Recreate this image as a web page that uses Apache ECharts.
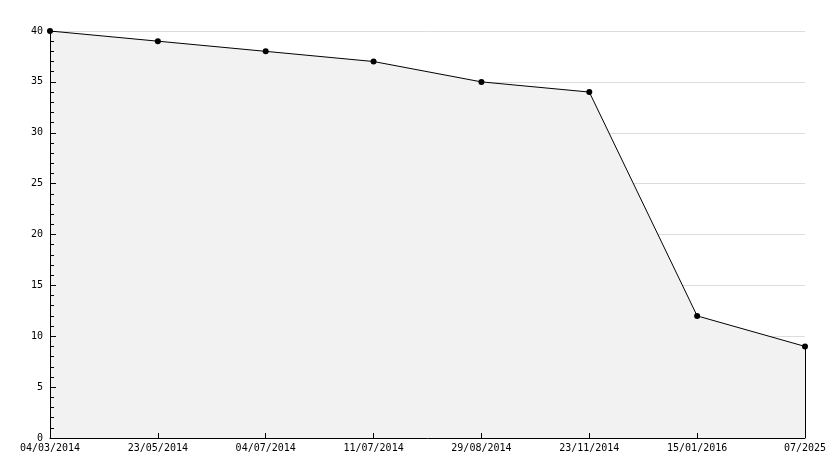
<!DOCTYPE html>
<html><head><meta charset="utf-8">
<script src="https://cdn.jsdelivr.net/npm/echarts@6/dist/echarts.min.js"></script>
<style>html,body{margin:0;padding:0;background:#fff}#c{width:834px;height:468px}</style>
</head><body><div id="c"></div>
<script>
const categories = ['04/03/2014','23/05/2014','04/07/2014','11/07/2014','29/08/2014','23/11/2014','15/01/2016','07/2025'];
const values = [40, 39, 38, 37, 35, 34, 12, 9];
const yTicks = {min: 0, max: 40, interval: 5};

const font = {fontFamily: 'DejaVu Sans Mono', fontSize: 10, color: '#000'};
const chart = echarts.init(document.getElementById('c'), null, {renderer: 'canvas'});
const last = categories.length - 1;
const xBase = {type: 'category', data: categories, boundaryGap: false, position: 'bottom'};
const yBase = {type: 'value', min: yTicks.min, max: yTicks.max, interval: yTicks.interval, position: 'left'};
chart.setOption({
  animation: false,
  backgroundColor: '#fff',
  grid: {left: 50, right: 29, top: 31, bottom: 30, containLabel: false},
  xAxis: [
    Object.assign({}, xBase, {
      axisLine: {show: false}, axisTick: {show: false},
      axisLabel: Object.assign({margin: 5, interval: 0, showMaxLabel: true, showMinLabel: true}, font),
      splitLine: {show: false}
    }),
    Object.assign({}, xBase, {
      z: 10,
      axisLine: {show: true, lineStyle: {color: '#000', width: 1}},
      axisTick: {show: true, inside: true, length: 5, lineStyle: {color: '#000'}},
      axisLabel: {show: false}, splitLine: {show: false}
    })
  ],
  yAxis: [
    Object.assign({}, yBase, {
      axisLine: {show: false}, axisTick: {show: false},
      axisLabel: Object.assign({margin: 7}, font),
      splitLine: {show: true, lineStyle: {color: '#dcdcdc', width: 1}}
    }),
    Object.assign({}, yBase, {
      z: 10,
      axisLine: {show: true, lineStyle: {color: '#000', width: 1}},
      axisTick: {show: true, inside: true, length: 6, lineStyle: {color: '#000'}},
      minorTick: {show: true, splitNumber: 5, length: 4, lineStyle: {color: '#000'}},
      axisLabel: {show: false}, splitLine: {show: false}
    })
  ],
  series: [{
    type: 'line', data: values, xAxisIndex: 0, yAxisIndex: 0,
    symbol: 'circle', symbolSize: 6,
    itemStyle: {color: '#000'},
    lineStyle: {color: '#000', width: 1},
    areaStyle: {color: '#f2f2f2', opacity: 1},
    markLine: {
      silent: true, symbol: ['none','none'], label: {show: false},
      lineStyle: {color: '#000', width: 1, type: 'solid'},
      data: [[{coord: [categories[last], values[last]]}, {coord: [categories[last], 0]}]]
    }
  }]
});
</script></body></html>
